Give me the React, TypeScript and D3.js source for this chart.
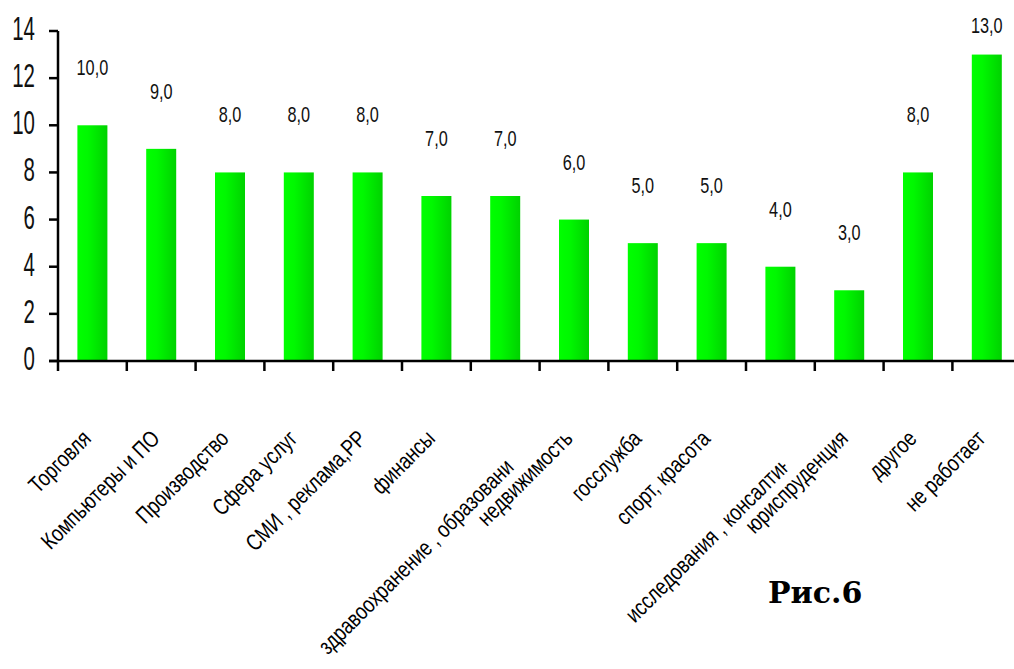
import React from "react";
import * as d3 from "d3";

// Sphere of employment, share of respondents (%)
const categories: string[] = [
  "Торговля",
  "Компьютеры и ПО",
  "Производство",
  "Сфера услуг",
  "СМИ , реклама,PP",
  "финансы",
  "здравоохранение , образование",
  "недвижимость",
  "госслужба",
  "спорт, красота",
  "исследования , консалтинг",
  "юриспруденция",
  "другое",
  "не работает",
];
const values: number[] = [10, 9, 8, 8, 8, 7, 7, 6, 5, 5, 4, 3, 8, 13];
const yTicks: number[] = [0, 2, 4, 6, 8, 10, 12, 14];
const figureCaption = "Рис.6";

const W = 1014;
const H = 669;
const axisX = 58;
const plotTop = 31;
const plotBottom = 361;
const band = 68.8;

export default function App() {
  const x = d3
    .scaleBand<string>()
    .domain(categories)
    .range([axisX, axisX + band * categories.length])
    .paddingInner(0)
    .paddingOuter(0);
  const y = d3.scaleLinear().domain([0, 14]).range([plotBottom, plotTop]);
  const barW = 30;
  const fmt = (v: number) => v.toFixed(1).replace(".", ",");
  const sans = "'Liberation Sans', Arial, sans-serif";

  return (
    <svg
      width={W}
      height={H}
      style={{ position: "absolute", left: 0, top: 0, background: "#fff" }}
    >
      <defs>
        <linearGradient id="barFill" x1="0" x2="1" y1="0" y2="0">
          <stop offset="0" stopColor="#00ff00" />
          <stop offset="0.35" stopColor="#00f800" />
          <stop offset="1" stopColor="#00d200" />
        </linearGradient>
        <clipPath id="cutEnd" clipPathUnits="userSpaceOnUse">
          <rect x={-1000} y={-200} width={1000 - 14} height={400} />
        </clipPath>
      </defs>

      {/* bars */}
      {categories.map((c, i) => {
        const cx = (x(c) as number) + x.bandwidth() / 2;
        return (
          <rect
            key={c}
            x={cx - barW / 2}
            y={y(values[i])}
            width={barW}
            height={y(0) - y(values[i])}
            fill="url(#barFill)"
          />
        );
      })}

      {/* value labels */}
      {categories.map((c, i) => {
        const cx = (x(c) as number) + x.bandwidth() / 2;
        const by = Math.max(y(values[i]) - 50, 33);
        return (
          <text
            key={"v" + c}
            transform={`translate(${cx},${by}) scale(0.74,1)`}
            textAnchor="middle"
            fontFamily={sans}
            fontSize={22}
            fill="#111"
          >
            {fmt(values[i])}
          </text>
        );
      })}

      {/* y axis */}
      <line
        x1={axisX}
        x2={axisX}
        y1={plotTop}
        y2={plotBottom}
        stroke="#000"
        strokeWidth={2.5}
      />
      {yTicks.map((t) => (
        <g key={"yt" + t}>
          <line
            x1={axisX - 9}
            x2={axisX}
            y1={y(t)}
            y2={y(t)}
            stroke="#000"
            strokeWidth={2.5}
          />
          <text
            transform={`translate(35,${y(t) + 9}) scale(0.62,1)`}
            textAnchor="end"
            fontFamily={sans}
            fontSize={33}
            fill="#111"
          >
            {t}
          </text>
        </g>
      ))}

      {/* x axis */}
      <line
        x1={axisX - 9}
        x2={W}
        y1={plotBottom}
        y2={plotBottom}
        stroke="#000"
        strokeWidth={2.5}
      />
      {d3.range(categories.length + 1).map((k) => (
        <line
          key={"xt" + k}
          x1={axisX + k * x.bandwidth()}
          x2={axisX + k * x.bandwidth()}
          y1={plotBottom}
          y2={plotBottom + 10}
          stroke="#000"
          strokeWidth={2.5}
        />
      ))}

      {/* category labels, rotated */}
      {categories.map((c) => {
        const cx = (x(c) as number) + x.bandwidth() / 2;
        const long = c.length > 20;
        return (
          <g key={"cl" + c} transform={`translate(${cx},440) rotate(-45)`}>
            <g clipPath={long ? "url(#cutEnd)" : undefined}>
              <text
                transform={`translate(${long ? -3 : 0},${long ? 27 : 0}) scale(0.8,1)`}
                textAnchor="end"
                fontFamily={sans}
                fontSize={23}
                fill="#000"
              >
                {c}
              </text>
            </g>
          </g>
        );
      })}

      <text
        x={768}
        y={603}
        fontFamily="'DejaVu Serif', serif"
        fontWeight="bold"
        fontSize={30}
        fill="#000"
      >
        {figureCaption}
      </text>
    </svg>
  );
}
